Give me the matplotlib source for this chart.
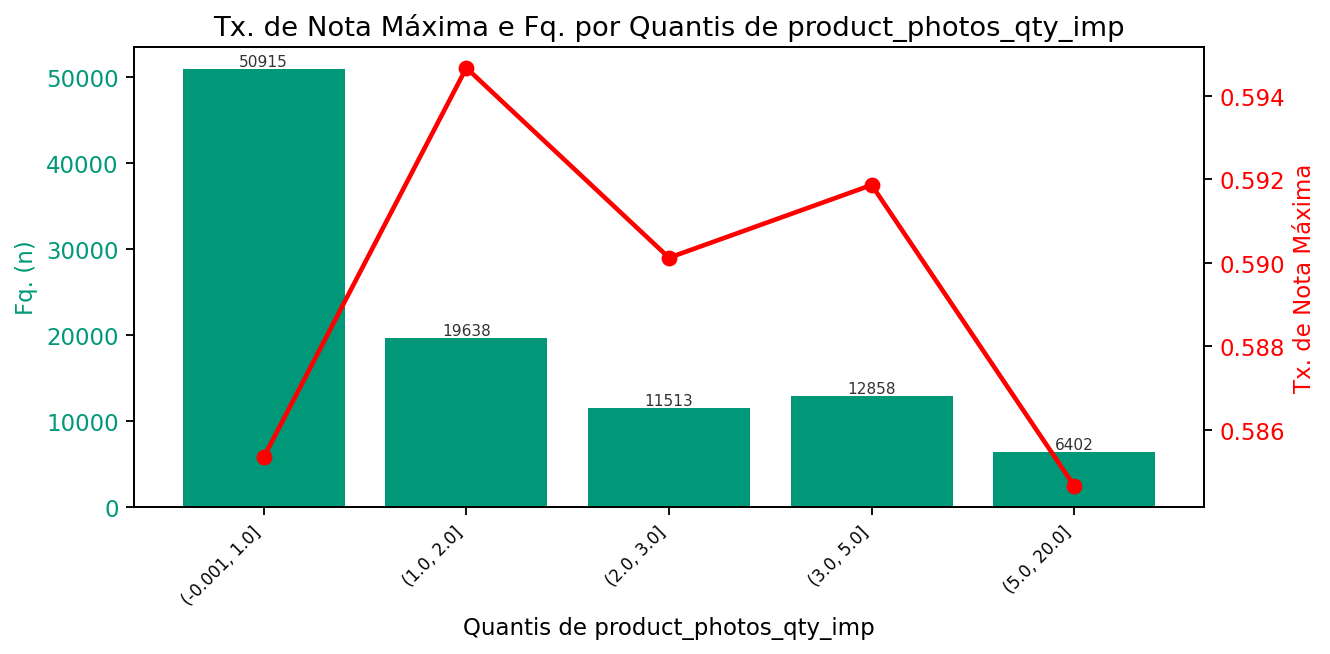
import matplotlib
matplotlib.use("Agg")
import matplotlib.pyplot as plt
import numpy as np

categories = ["(-0.001, 1.0]", "(1.0, 2.0]", "(2.0, 3.0]", "(3.0, 5.0]", "(5.0, 20.0]"]
counts = [50915, 19638, 11513, 12858, 6402]
rates = [0.58535, 0.59466, 0.59012, 0.59186, 0.58466]

bar_color = "#009879"
line_color = "red"
s = 1.1

fig = plt.figure(figsize=(1330/150, 655/150), dpi=150)
ax = fig.add_axes([134/1330, 1-508/655, (1204-134)/1330, (508-48)/655])
x = np.arange(len(categories))
bars = ax.bar(x, counts, width=0.8, color=bar_color)
for b, v in zip(bars, counts):
    ax.text(b.get_x() + b.get_width()/2, b.get_height(), str(v), ha="center", va="bottom",
            fontsize=6.7*s, color="#333333")
ax.set_xticks(x)
ax.set_xticklabels(categories, rotation=45, ha="right", fontsize=8)
ax.set_ylabel("Fq. (n)", color=bar_color, fontsize=10*s)
ax.tick_params(axis="y", labelcolor=bar_color, labelsize=10*s)
ax.tick_params(width=0.8*s, length=3.5*s)
ax.set_xlabel("Quantis de product_photos_qty_imp", fontsize=10*s)
ax.set_title("Tx. de Nota Máxima e Fq. por Quantis de product_photos_qty_imp", fontsize=12*s)
for sp in ax.spines.values():
    sp.set_linewidth(0.8*s)

ax2 = ax.twinx()
ax2.plot(x, rates, color=line_color, marker="o", linewidth=2*s, markersize=6*s)
ax2.set_ylabel("Tx. de Nota Máxima", color=line_color, fontsize=10*s)
ax2.tick_params(axis="y", labelcolor=line_color, labelsize=10*s, width=0.8*s, length=3.5*s)
ax2.set_yticks([0.586, 0.588, 0.590, 0.592, 0.594])

fig.savefig("out.png", dpi=150)
